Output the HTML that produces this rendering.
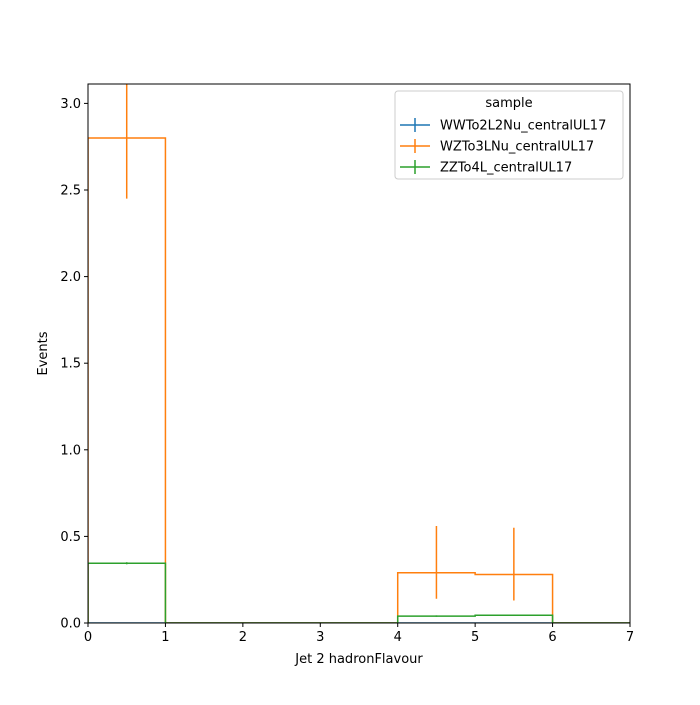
<!DOCTYPE html>
<html><head><meta charset="utf-8"><style>
body{margin:0;background:#fff;font-family:"Liberation Sans","DejaVu Sans",sans-serif}
svg text{font-family:"DejaVu Sans","Liberation Sans",sans-serif;font-size:13px;fill:#000}
</style></head><body>
<svg id="chart" width="700" height="700" xmlns="http://www.w3.org/2000/svg">
<rect width="700" height="700" fill="#fff"/>
<defs><clipPath id="clip"><rect x="88" y="84" width="542" height="539"/></clipPath></defs>
<g id="plot"></g>
<g id="axes"></g>
<g id="legend"></g>
</svg>
<script>
const edges=[0,1,2,3,4,5,6,7];
const seriesNames=["WWTo2L2Nu_centralUL17","WZTo3LNu_centralUL17","ZZTo4L_centralUL17"];
const colors=["#1f77b4","#ff7f0e","#2ca02c"];
const wwValues=[0,0,0,0,0,0,0];
const wwErrLow=[0,0,0,0,0,0,0];
const wwErrHigh=[0,0,0,0,0,0,0];
const wzValues=[2.80,0,0,0,0.29,0.28,0];
const wzErrLow=[0.35,0,0,0,0.15,0.15,0];
const wzErrHigh=[0.40,0,0,0,0.27,0.27,0];
const zzValues=[0.345,0,0,0,0.04,0.045,0];
const zzErrLow=[0.006,0,0,0,0.004,0.004,0];
const zzErrHigh=[0.006,0,0,0,0.004,0.004,0];
const xTicks=[0,1,2,3,4,5,6,7];
const yTicks=[0,0.5,1.0,1.5,2.0,2.5,3.0];
const X0=88,X1=630,Y0=623,Y1=84,xmax=7,ymax=3.112;
const sx=v=>X0+(X1-X0)*v/xmax, sy=v=>Y0-(Y0-Y1)*v/ymax;
const NS="http://www.w3.org/2000/svg";
function mk(t,a,p){const e=document.createElementNS(NS,t);for(const k in a)e.setAttribute(k,a[k]);p.appendChild(e);return e;}
const plot=document.getElementById('plot'),axes=document.getElementById('axes'),leg=document.getElementById('legend');
const all=[[wwValues,wwErrLow,wwErrHigh],[wzValues,wzErrLow,wzErrHigh],[zzValues,zzErrLow,zzErrHigh]];
all.forEach(([vals,lo,hi],s)=>{
  let d=`M${sx(edges[0])},${sy(0)}`;
  vals.forEach((v,i)=>{d+=` L${sx(edges[i])},${sy(v)} L${sx(edges[i+1])},${sy(v)}`;});
  d+=` L${sx(edges[edges.length-1])},${sy(0)}`;
  const p=mk('path',{d,fill:'none',stroke:colors[s],'stroke-width':1.5,'clip-path':'url(#clip)'},plot);
  
  
  vals.forEach((v,i)=>{
    if(lo[i]<=0&&hi[i]<=0)return;
    const cx=sx((edges[i]+edges[i+1])/2);
    const l=mk('line',{x1:cx,x2:cx,y1:sy(v-lo[i]),y2:sy(v+hi[i]),stroke:colors[s],'stroke-width':1.5,'clip-path':'url(#clip)'},plot);
    
    
  });
});
const fr=mk('rect',{x:X0,y:Y1,width:X1-X0,height:Y0-Y1,fill:'none',stroke:'#000','stroke-width':1},axes);


xTicks.forEach(t=>{
  mk('line',{x1:sx(t),x2:sx(t),y1:Y0,y2:Y0+4,stroke:'#000'},axes);
  const tx=mk('text',{x:sx(t),y:Y0+18,'text-anchor':'middle'},axes);tx.textContent=t;
  
  
});
yTicks.forEach(t=>{
  mk('line',{x1:X0-4,x2:X0,y1:sy(t),y2:sy(t),stroke:'#000'},axes);
  const tx=mk('text',{x:X0-7,y:sy(t)+4.5,'text-anchor':'end'},axes);tx.textContent=t.toFixed(1);
  
  
});
const xt=mk('text',{x:(X0+X1)/2,y:663,'text-anchor':'middle'},axes);xt.textContent='Jet 2 hadronFlavour';


const yt=mk('text',{x:0,y:0,'text-anchor':'middle',transform:`translate(47,${(Y0+Y1)/2}) rotate(-90)`},axes);yt.textContent='Events';


mk('rect',{x:395,y:91,width:228,height:88,rx:3,fill:'#fff','fill-opacity':0.8,stroke:'#ccc'},leg);
const lt=mk('text',{x:509,y:107,'text-anchor':'middle'},leg);lt.textContent='sample';


seriesNames.forEach((n,i)=>{
  const y=125+i*21;
  const g=mk('g',{},leg);
  
  
  mk('line',{x1:400,x2:430,y1:y,y2:y,stroke:colors[i],'stroke-width':1.5},g);
  mk('line',{x1:415,x2:415,y1:y-7,y2:y+7,stroke:colors[i],'stroke-width':1.5},g);
  const t=mk('text',{x:440,y:y+4.5},g);t.textContent=n;
});
</script>
</body></html>
